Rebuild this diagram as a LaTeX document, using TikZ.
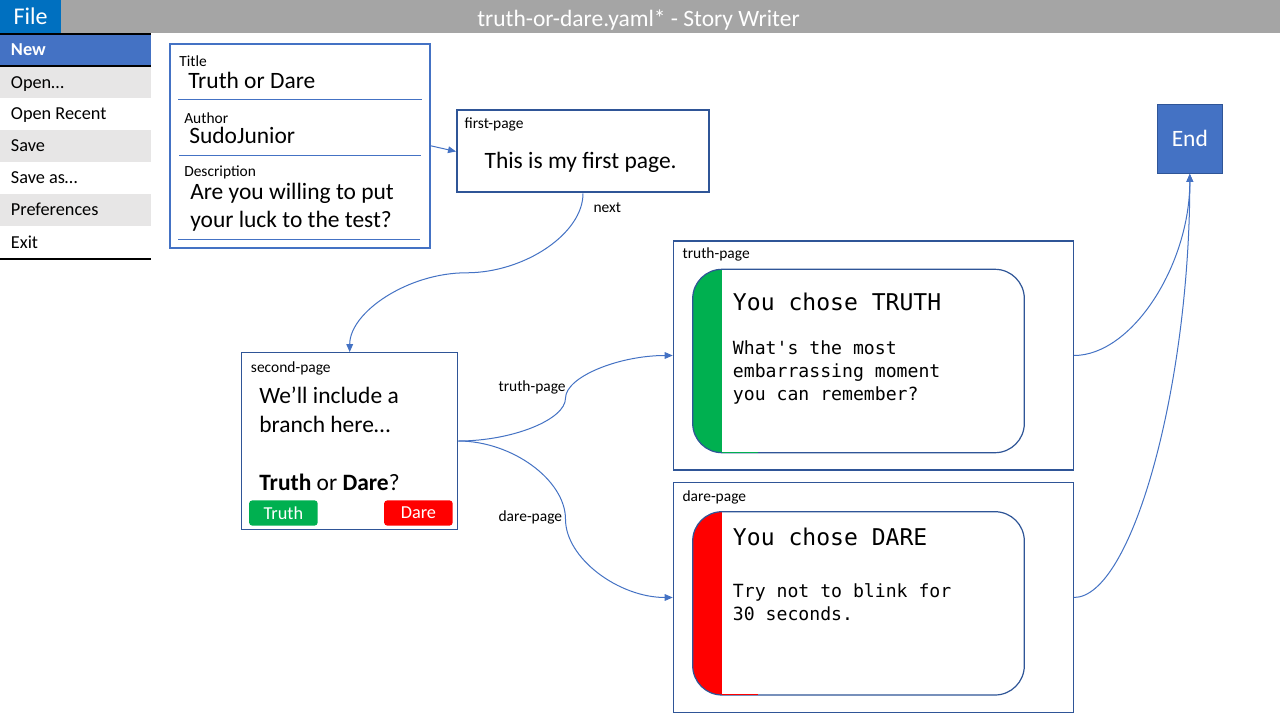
\documentclass[tikz,border=0pt]{standalone}
\usepackage{fontspec}
\setmainfont{Carlito}
\newfontfamily\monof{DejaVu Sans Mono}
\usetikzlibrary{arrows.meta,fit,calc}
\definecolor{accent}{HTML}{4472C4}
\definecolor{darkblue}{HTML}{2F5597}
\definecolor{barGray}{HTML}{A5A5A5}
\definecolor{fileBlue}{HTML}{0070C0}
\definecolor{rowGray}{HTML}{E7E6E6}
\definecolor{tgreen}{HTML}{00B050}
\definecolor{tred}{HTML}{FF0000}
\tikzset{
  lbl/.style={anchor=base west, inner sep=0, font=\fontsize{11.6}{14}\selectfont},
  big/.style={anchor=base west, inner sep=0, align=left, font=\fontsize{17.6}{21.4}\selectfont},
  menuitem/.style={anchor=base west, inner sep=0, font=\fontsize{13.7}{16}\selectfont},
  monohead/.style={anchor=base west, inner sep=0, font=\monof\fontsize{17.3}{20}\selectfont},
  monobody/.style={anchor=base west, inner sep=0, align=left, font=\monof\fontsize{13.6}{16.9}\selectfont},
  conn/.style={draw=accent, line width=0.75pt, -{Triangle[length=6pt,width=5pt]}},
  pagebox/.style={draw=darkblue, line width=0.9pt, inner sep=0},
  card/.style={draw=darkblue, line width=0.9pt, inner sep=0, rounded corners=22pt},
  btn/.style={text=white, rounded corners=2.5pt, inner sep=0, minimum width=51.5pt, minimum height=19pt, font=\fontsize{13.7}{16}\selectfont},
  divider/.style={draw=accent, line width=0.75pt},
  menuline/.style={draw=black, line width=1.5pt}
}
\begin{document}
\begin{tikzpicture}[x=0.75pt,y=-0.75pt]
\useasboundingbox (0,0) rectangle (1280,720);
\fill[white] (0,0) rectangle (1280,720);
% title bar
\fill[barGray] (0,0) rectangle (1280,33.3);
\node[fill=fileBlue, fit={(0,0) (61,33.3)}, inner sep=0] (filebtn) {};
\node[anchor=base, inner sep=0, text=white, font=\fontsize{18}{21}\selectfont] (filelbl) at (30.5,25) {File};
\node[anchor=base, inner sep=0, text=white, font=\fontsize{17.6}{21}\selectfont] (wintitle) at (638.5,26.7) {truth-or-dare.yaml* - Story Writer};
% menu
\fill[accent] (0,34.2) rectangle (151,66.3);
\fill[rowGray] (0,67) rectangle (151,98);
\fill[rowGray] (0,130) rectangle (151,162);
\fill[rowGray] (0,194) rectangle (151,226);
\draw[menuline] (0,34.2) -- (151,34.2);
\draw[menuline] (0,66.3) -- (151,66.3);
\draw[menuline] (0,258.5) -- (151,258.5);
\node[menuitem, text=white, font=\bfseries\fontsize{13.7}{16}\selectfont] (mnew) at (10.7,55.7) {New};
\node[menuitem] (mopen) at (10.7,88.3) {Open…};
\node[menuitem] (mrecent) at (10.7,120) {Open Recent};
\node[menuitem] (msave) at (10.7,152) {Save};
\node[menuitem] (msaveas) at (10.7,184) {Save as…};
\node[menuitem] (mpref) at (10.7,216) {Preferences};
\node[menuitem] (mexit) at (10.7,248) {Exit};
% metadata box
\node[fit={(170,44) (429.5,247.5)}, draw=accent, line width=1.5pt, inner sep=0] (meta) {};
\draw[divider] (178,100) -- (422,100);
\draw[divider] (179,156) -- (421,156);
\draw[divider] (178,240) -- (420,240);
\node[lbl] (ltitle) at (179,66.7) {Title};
\node[big] (vtitle) at (188,88.3) {Truth or Dare};
\node[lbl] (lauthor) at (184,123.3) {Author};
\node[big] (vauthor) at (189,144) {SudoJunior};
\node[lbl] (ldesc) at (184,177) {Description};
\node[big, font=\fontsize{17.6}{21.3}\selectfont] (vdesc) at (190,227.7) {Are you willing to put\\your luck to the test?};
% first page
\node[fit={(457,110.5) (709,192.5)}, draw=darkblue, line width=1.5pt, inner sep=0] (first) {};
\node[lbl] (lfirst) at (464.3,128.3) {first-page};
\node[big] (tfirst) at (484.3,168.3) {This is my first page.};
% second page
\node[fit={(241.7,352.7) (457.7,529.3)}, pagebox] (second) {};
\node[lbl] (lsecond) at (250.7,372.3) {second-page};
\node[big, font=\fontsize{17.6}{21.75}\selectfont] (tsecond) at (259,432.3) {We’ll include a\\branch here…};
\node[big] (qsecond) at (259,490) {\textbf{Truth} or \textbf{Dare}?};
\node[btn, fill=tgreen] (btntruth) at (283.4,513) {Truth};
\node[btn, fill=tred] (btndare) at (418.4,513) {Dare};
% truth page
\node[fit={(673.3,241) (1073.3,470)}, pagebox] (truth) {};
\node[lbl] (ltruth) at (682.3,258.3) {truth-page};
\begin{scope}
  \clip[rounded corners=22pt] (692.7,269.3) rectangle (1024.3,452.7);
  \fill[tgreen] (692.7,269.3) rectangle (721.7,452.7);
\end{scope}
\node[fit={(692.7,269.3) (1024.3,452.7)}, card] (truthcard) {};
\draw[tgreen, line width=1.2pt] (721.7,452.3) -- (757.7,452.3);
\node[monohead] (htruth) at (732.7,310) {You chose TRUTH};
\node[monobody] (btruth) at (732.7,400) {What\textquotesingle s the most\\embarrassing moment\\you can remember?};
% dare page
\node[fit={(673.3,482.7) (1073.3,712.3)}, pagebox] (dare) {};
\node[lbl] (ldare) at (682.3,501.7) {dare-page};
\begin{scope}
  \clip[rounded corners=22pt] (692.7,511.7) rectangle (1024.3,695);
  \fill[tred] (692.7,511.7) rectangle (721.7,695);
\end{scope}
\node[fit={(692.7,511.7) (1024.3,695)}, card] (darecard) {};
\draw[tred, line width=1.2pt] (721.7,694.6) -- (757.7,694.6);
\node[monohead] (hdare) at (732.7,545.7) {You chose DARE};
\node[monobody] (bdare) at (732.7,620) {Try not to blink for\\30 seconds.};
% end
\node[fill=accent, draw=darkblue, line width=0.75pt, inner sep=0, minimum width=48.75pt, minimum height=51.75pt, text=white, font=\fontsize{17.6}{21}\selectfont] (endbox) at (1189.8,138.8) {End};
% connectors
\draw[conn] (meta.east) -- (first.west);
\draw[conn] (first.south) .. controls +(0,40) and +(58.3,0) .. ($(first.south)!0.5!(second.north)$) .. controls +(-58.3,0) and +(0,-40) .. (second.north);
\node[lbl] (lnext) at (593.3,212.7) {next};
\draw[conn] (second.east) .. controls +(53.9,0) and +(0,21.4) .. ($(second.east)!0.5!(truth.west)$) .. controls +(0,-21.4) and +(-53.9,0) .. (truth.west);
\draw[conn] (second.east) .. controls +(53.9,0) and +(0,-39.1) .. ($(second.east)!0.5!(dare.west)$) .. controls +(0,39.1) and +(-53.9,0) .. (dare.west);
\node[lbl] (ltruthc) at (498.3,391) {truth-page};
\node[lbl] (ldarec) at (498.3,521.7) {dare-page};
\draw[conn] (truth.east) .. controls +(58.25,0) and +(0,91.1) .. (endbox.south);
\draw[conn] (dare.east) .. controls +(58.25,0) and +(0,212.1) .. (endbox.south);
\end{tikzpicture}
\end{document}
